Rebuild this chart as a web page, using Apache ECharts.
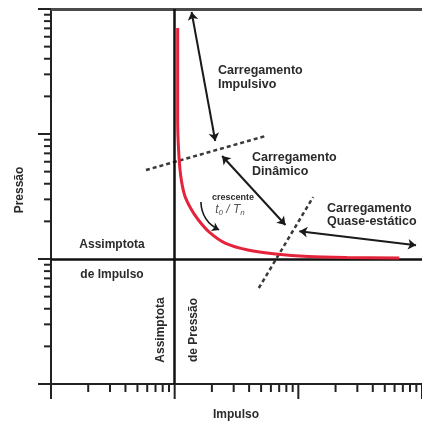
<!DOCTYPE html>
<html>
<head>
<meta charset="utf-8">
<script src="https://cdn.jsdelivr.net/npm/echarts@6/dist/echarts.min.js"></script>
<style>
html,body{margin:0;padding:0;background:#fff;}
#chart{width:422px;height:424px;}
</style>
</head>
<body>
<div id="chart"></div>
<script>
// Axis tick values (log axes, Impulso and Pressão)
const majorTicks = [1, 10, 100, 1000];
const minorTicks = [2, 3, 4, 5, 6, 7, 8, 9, 20, 30, 40, 50, 60, 70, 80, 90, 200, 300, 400, 500, 600, 700, 800, 900];

// Asymptotes
const impulseAsymptote = 10;   // horizontal (Pressão value)
const pressureAsymptote = 10;  // vertical (Impulso value)

// P-I curve (red): [impulso, pressão]
const piCurve = [
  [10.57, 704.7], [10.57, 129.4], [10.76, 74.5], [11.17, 47.0], [12.02, 32.5],
  [13.43, 25.6], [15.56, 20.5], [19.05, 16.4], [25.6, 13.4], [39.1, 11.8],
  [65.5, 10.96], [120, 10.47], [247, 10.28], [655, 10.19]
];

// Loading-regime path (black, arrows at segment ends)
const pathImpulsive = [[13.7, 946], [21.3, 87.9]];
const pathDynamic = [[24.2, 66.7], [78.7, 18.7]];
const pathQuasiStatic = [[101.9, 16.7], [895, 12.9]];

// Regime boundaries (dashed)
const boundary1 = [[5.86, 51.5], [54.5, 96.4]];
const boundary2 = [[47.9, 5.86], [131.8, 31.3]];

// Small "crescente t0/Tn" arrow
const increaseArrow = [[16.3, 28.6], [22.9, 17.1]];

const chart = echarts.init(document.getElementById('chart'));
const font = 'Liberation Sans, Arial, sans-serif';
const txtColor = '#2b2b2b';

function tickData(axis) {
  const out = [];
  majorTicks.forEach(v => out.push(axis === 'x' ? [v, 1, 1] : [1, v, 1]));
  minorTicks.forEach(v => out.push(axis === 'x' ? [v, 1, 0] : [1, v, 0]));
  return out;
}
function tickRender(axis) {
  return function (params, api) {
    const major = api.value(2);
    const len = axis === 'x' ? (major ? 15 : 8) : (major ? 13 : 7);
    const p = api.coord([api.value(0), api.value(1)]);
    const shape = axis === 'x'
      ? {x1: p[0], y1: p[1], x2: p[0], y2: p[1] + len}
      : {x1: p[0] - len, y1: p[1], x2: p[0], y2: p[1]};
    return {type: 'line', shape: shape, style: {stroke: '#222', lineWidth: 2}};
  };
}

function txt(text, x, y, opts) {
  opts = opts || {};
  return {
    type: 'text', x: x, y: y, rotation: opts.rot || 0, z: 100,
    style: {
      text: text, x: 0, y: 0,
      textAlign: opts.align || 'left', textVerticalAlign: 'middle',
      font: (opts.style || '') + ' bold ' + (opts.size || 12) + 'px ' + font,
      fill: opts.color || txtColor
    }
  };
}

const option = {
  animation: false,
  backgroundColor: '#fff',
  grid: {left: 51, top: 9, width: 375, height: 375},
  xAxis: [
    {type: 'log', logBase: 10, min: 1, max: 1000,
     axisLine: {show: true, lineStyle: {color: '#222', width: 2}},
     axisTick: {show: false}, axisLabel: {show: false}, splitLine: {show: false}},
    {type: 'log', logBase: 10, min: 1, max: 1000, position: 'top',
     axisLine: {show: true, lineStyle: {color: '#4a4a4a', width: 3}},
     axisTick: {show: false}, axisLabel: {show: false}, splitLine: {show: false}}
  ],
  yAxis: {type: 'log', logBase: 10, min: 1, max: 1000,
    axisLine: {show: true, lineStyle: {color: '#222', width: 2}},
    axisTick: {show: false}, axisLabel: {show: false}, splitLine: {show: false}},
  series: [
    {type: 'custom', name: 'xTicks', coordinateSystem: 'cartesian2d', clip: false, silent: true,
     encode: {x: 0, y: 1}, data: tickData('x'), renderItem: tickRender('x'), z: 3},
    {type: 'custom', name: 'yTicks', coordinateSystem: 'cartesian2d', clip: false, silent: true,
     encode: {x: 0, y: 1}, data: tickData('y'), renderItem: tickRender('y'), z: 3},
    {type: 'line', name: 'asymptotes', data: [], silent: true,
     markLine: {
       silent: true, symbol: 'none', label: {show: false},
       lineStyle: {color: '#111', width: 2.5, type: 'solid'},
       data: [{yAxis: impulseAsymptote}, {xAxis: pressureAsymptote}]
     }},
    {type: 'line', name: 'P-I', data: piCurve, smooth: 0.3, showSymbol: false, silent: true, z: 5,
     lineStyle: {color: '#e3243b', width: 3}},
    {type: 'line', name: 'b1', data: boundary1, showSymbol: false, silent: true, z: 4,
     lineStyle: {color: '#3a3a3a', width: 2.5, type: [4, 3]}},
    {type: 'line', name: 'b2', data: boundary2, showSymbol: false, silent: true, z: 4,
     lineStyle: {color: '#3a3a3a', width: 2.5, type: [4, 3]}},
    {type: 'lines', name: 'path', coordinateSystem: 'cartesian2d', silent: true, z: 6,
     symbol: ['arrow', 'arrow'], symbolSize: 8,
     lineStyle: {color: '#1a1a1a', width: 2, opacity: 1, curveness: 0},
     data: [{coords: pathImpulsive}, {coords: pathDynamic}, {coords: pathQuasiStatic}]},
    {type: 'lines', name: 'incArrow', coordinateSystem: 'cartesian2d', silent: true, z: 6,
     symbol: ['none', 'arrow'], symbolSize: 7,
     lineStyle: {color: '#1a1a1a', width: 1.6, opacity: 1, curveness: -0.3},
     data: [{coords: increaseArrow}]}
  ],
  graphic: [
    txt('Carregamento', 218, 71, {size: 12.5}),
    txt('Impulsivo', 218, 85, {size: 12.5}),
    txt('Carregamento', 252, 158, {size: 12.5}),
    txt('Dinâmico', 252, 172, {size: 12.5}),
    txt('Carregamento', 327, 209, {size: 12.5}),
    txt('Quase-estático', 327, 222, {size: 12.5}),
    txt('Assimptota', 112, 245, {align: 'center'}),
    txt('de Impulso', 112, 275, {align: 'center'}),
    txt('Assimptota', 161, 330, {align: 'center', rot: Math.PI / 2}),
    txt('de Pressão', 194, 330, {align: 'center', rot: Math.PI / 2}),
    txt('Pressão', 20, 190, {align: 'center', rot: Math.PI / 2}),
    txt('Impulso', 236, 415, {align: 'center'}),
    txt('crescente', 233, 198, {align: 'center', size: 9}),
    {type: 'text', x: 230, y: 210, z: 100,
     style: {
       text: '{i|t}{s|0}{i| / T}{s|n}', x: 0, y: 0, align: 'center', verticalAlign: 'middle',
       textAlign: 'center', textVerticalAlign: 'middle',
       rich: {
         i: {font: 'italic 12px ' + font, fill: '#555', color: '#555'},
         s: {font: 'italic 8px ' + font, fill: '#555', color: '#555', padding: [6, 0, 0, 0]}
       }
     }}
  ]
};
chart.setOption(option);
</script>
</body>
</html>
